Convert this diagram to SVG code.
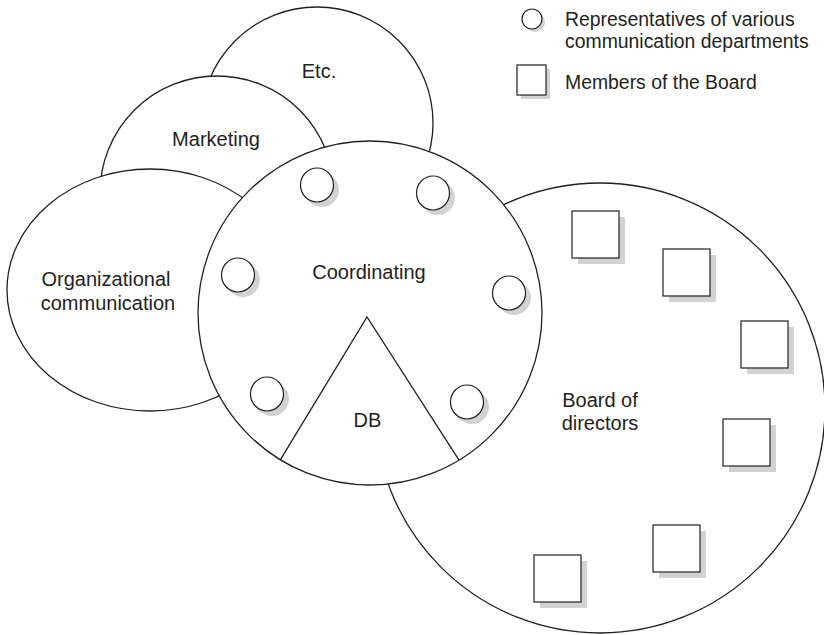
<svg xmlns="http://www.w3.org/2000/svg" width="824" height="635" viewBox="0 0 824 635">
<style>
.big{fill:#fff;stroke:#231f20;stroke-width:1.3}
.rep{fill:#fff;stroke:#231f20;stroke-width:1.2}
.sh{fill:#d1d2d4;stroke:none}
.lbl{font-family:"Liberation Sans",Arial,sans-serif;font-size:20px;fill:#231f20;text-anchor:middle}
.leg{font-family:"Liberation Sans",Arial,sans-serif;font-size:19.4px;fill:#231f20}
.ln{fill:none;stroke:#231f20;stroke-width:1.3}
</style>
<defs>
<g id="repc"><circle class="sh" cx="5" cy="5" r="17"/><ellipse class="rep" cx="0" cy="0" rx="16.5" ry="17"/></g>
<g id="bsq"><rect class="sh" x="6" y="6" width="47" height="47"/><rect class="rep" x="0" y="0" width="47" height="47"/></g>
</defs>
<rect width="824" height="635" fill="#fff"/>
<g id="etc">
<circle class="big" cx="317" cy="123" r="116"/>
<text class="lbl" x="319" y="78">Etc.</text>
</g>
<g id="marketing">
<circle class="big" cx="217" cy="193" r="117"/>
<text class="lbl" x="216" y="146">Marketing</text>
</g>
<g id="organizational">
<ellipse class="big" cx="150" cy="290" rx="143" ry="121"/>
<text class="lbl" x="106" y="286">Organizational</text>
<text class="lbl" x="108" y="310">communication</text>
</g>
<g id="board">
<circle class="big" cx="600" cy="408" r="225"/>
<use href="#bsq" x="572" y="211"/>
<use href="#bsq" x="663" y="249"/>
<use href="#bsq" x="741" y="321"/>
<use href="#bsq" x="723" y="419"/>
<use href="#bsq" x="653" y="525"/>
<use href="#bsq" x="534" y="555"/>
<text class="lbl" x="600" y="407">Board of</text>
<text class="lbl" x="600" y="430">directors</text>
</g>
<g id="coordinating">
<circle class="big" cx="370" cy="313" r="172"/>
<use href="#repc" x="317" y="185"/>
<use href="#repc" x="433" y="193"/>
<use href="#repc" x="509" y="293"/>
<use href="#repc" x="238" y="275"/>
<use href="#repc" x="267" y="394"/>
<use href="#repc" x="467" y="402"/>
<text class="lbl" x="369" y="279">Coordinating</text>
</g>
<g id="db">
<polyline class="ln" points="280.3,459.8 367,317 459,460.2"/>
<text class="lbl" x="367.5" y="427">DB</text>
</g>
<g id="legend">
<circle class="sh" cx="535" cy="22" r="10"/>
<circle class="rep" cx="532" cy="19" r="10"/>
<text class="leg" x="565" y="26">Representatives of various</text>
<text class="leg" x="565" y="48">communication departments</text>
<rect class="sh" x="521" y="69" width="29" height="30"/>
<rect class="rep" x="517" y="65" width="29" height="30"/>
<text class="leg" x="565" y="89">Members of the Board</text>
</g>
</svg>
